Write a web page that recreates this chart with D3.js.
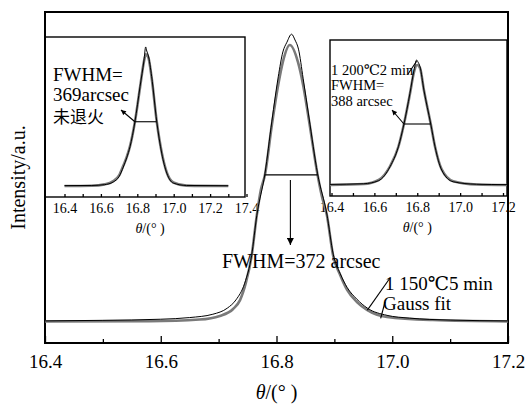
<!DOCTYPE html>
<html>
<head>
<meta charset="utf-8">
<script src="https://cdn.jsdelivr.net/npm/d3@7"></script>
<style>
  body { margin: 0; background: #fff; }
  svg { display: block; }
  svg text { font-family: "Liberation Serif", "Times New Roman", Tinos, "DejaVu Serif", "Noto Sans CJK SC", serif; fill: #000; }
  .frame { fill: none; stroke: #000; }
  .measured { fill: none; stroke: #000; stroke-width: 1; }
  .fit { fill: none; stroke: #7a7a7a; stroke-width: 2.6; }
  .axis path { display: none; }
  .axis line { stroke: #000; stroke-width: 1.3; }
  .note { stroke: #000; stroke-width: 1.1; fill: none; }
  svg text.cjk { font-family: "Noto Sans CJK SC", sans-serif; }
</style>
</head>
<body>
<svg id="chart" width="525" height="405"></svg>
<script>
// main scan: 1 150 ℃ 5 min (theta in degrees, normalised intensity)
const mainMeasured = [
  [16.400, 0.004], [16.500, 0.006], [16.600, 0.010], [16.650, 0.016], [16.690, 0.028],
  [16.715, 0.050], [16.730, 0.080], [16.745, 0.140], [16.757, 0.240], [16.766, 0.385],
  [16.780, 0.535], [16.792, 0.725], [16.803, 0.885], [16.811, 0.975], [16.818, 1.010],
  [16.826, 1.039], [16.832, 1.018], [16.838, 0.985], [16.846, 0.880], [16.856, 0.740],
  [16.871, 0.535], [16.887, 0.390], [16.898, 0.245], [16.910, 0.175], [16.922, 0.125],
  [16.939, 0.082], [16.957, 0.050], [16.991, 0.024], [17.030, 0.014], [17.100, 0.007],
  [17.200, 0.004]
];
const mainFit = [
  [16.400, 0.002], [16.581, 0.003], [16.667, 0.009], [16.702, 0.022], [16.725, 0.047],
  [16.737, 0.079], [16.747, 0.141], [16.757, 0.238], [16.766, 0.386], [16.773, 0.477],
  [16.780, 0.531], [16.792, 0.711], [16.803, 0.856], [16.811, 0.939], [16.823, 1.000],
  [16.837, 0.939], [16.846, 0.856], [16.856, 0.729], [16.871, 0.531], [16.878, 0.458],
  [16.887, 0.386], [16.898, 0.238], [16.910, 0.170], [16.922, 0.116], [16.939, 0.072],
  [16.957, 0.043], [16.991, 0.018], [17.070, 0.007], [17.200, 0.002]
];

// inset 1: as grown (未退火)
const asGrownMeasured = [
  [16.400, 0.003], [16.550, 0.004], [16.620, 0.010], [16.668, 0.030], [16.700, 0.070],
  [16.723, 0.140], [16.742, 0.210], [16.760, 0.291], [16.787, 0.476], [16.815, 0.736],
  [16.837, 0.933], [16.846, 1.030], [16.852, 1.000], [16.860, 0.970], [16.879, 0.810],
  [16.907, 0.476], [16.934, 0.244], [16.962, 0.096], [16.998, 0.022], [17.070, 0.004],
  [17.300, 0.002]
];
const asGrownFit = [
  [16.400, 0.000], [16.550, 0.002], [16.620, 0.012], [16.668, 0.036], [16.700, 0.078],
  [16.723, 0.150], [16.742, 0.215], [16.760, 0.295], [16.787, 0.476], [16.815, 0.730],
  [16.837, 0.925], [16.847, 0.975], [16.860, 0.955], [16.879, 0.800], [16.907, 0.476],
  [16.934, 0.250], [16.962, 0.100], [16.998, 0.026], [17.070, 0.003], [17.300, 0.000]
];

// inset 2: 1 200 ℃ 2 min
const rtaMeasured = [
  [16.393, 0.005], [16.550, 0.010], [16.620, 0.035], [16.673, 0.146], [16.712, 0.306],
  [16.738, 0.488], [16.766, 0.734], [16.785, 0.920], [16.797, 1.000], [16.803, 0.985],
  [16.813, 0.946], [16.831, 0.760], [16.863, 0.488], [16.883, 0.306], [16.914, 0.120],
  [16.968, 0.026], [17.077, 0.006], [17.219, 0.003]
];
const rtaFit = [
  [16.393, 0.000], [16.550, 0.008], [16.620, 0.040], [16.673, 0.150], [16.712, 0.306],
  [16.738, 0.488], [16.766, 0.730], [16.785, 0.905], [16.799, 0.960], [16.813, 0.935],
  [16.831, 0.760], [16.863, 0.488], [16.883, 0.306], [16.914, 0.125], [16.968, 0.030],
  [17.077, 0.004], [17.219, 0.000]
];

// FWHM markers: [theta left, theta right, intensity]
const mainFwhm = [16.780, 16.871, 0.531];
const asGrownFwhm = [16.787, 16.907, 0.476];
const rtaFwhm = [16.738, 16.863, 0.488];

const mainTicks = [16.4, 16.6, 16.8, 17.0, 17.2];
const mainMinorTicks = [16.5, 16.7, 16.9, 17.1];
const asGrownTicks = [16.4, 16.6, 16.8, 17.0, 17.2, 17.4];
const rtaTicks = [16.4, 16.6, 16.8, 17.0, 17.2];

const svg = d3.select('#chart');
const fmt = d3.format('.1f');

function tenths(lo, hi) {
  const out = [];
  for (let i = Math.round(lo * 10); i <= Math.round(hi * 10); i++) out.push(i / 10);
  return out;
}

const defs = svg.append('defs');
function marker(id, w, h) {
  defs.append('marker')
    .attr('id', id)
    .attr('viewBox', '0 0 10 10')
    .attr('refX', 10).attr('refY', 5)
    .attr('markerUnits', 'userSpaceOnUse')
    .attr('markerWidth', w).attr('markerHeight', h)
    .attr('orient', 'auto')
    .append('path').attr('d', 'M0,0L10,5L0,10Z').attr('fill', '#000');
}
marker('head', 12, 7);
marker('head-small', 7, 5);

// ── main panel scales ──────────────────────────────────────
const main = {left: 45, right: 508, top: 12, bottom: 343};
const x = d3.scaleLinear().domain([16.4, 17.2]).range([main.left, main.right]);
const y = d3.scaleLinear().domain([0, 1]).range([322, 45]);

// ── insets ─────────────────────────────────────────────────
function inset(box, xs, ys, ticks, measured, fit, fwhm, titleAt) {
  const g = svg.append('g');
  g.append('rect').attr('class', 'frame').attr('stroke-width', 1.4)
    .attr('x', box.left).attr('y', box.top)
    .attr('width', box.right - box.left).attr('height', box.bottom - box.top);

  g.append('g').attr('class', 'axis')
    .attr('transform', `translate(0,${box.bottom})`)
    .call(d3.axisBottom(xs).tickValues(tenths(ticks[0], ticks[ticks.length - 1])).tickSizeInner(-3).tickSizeOuter(0).tickFormat(''));

  g.append('g').attr('class', 'axis')
    .attr('transform', `translate(0,${box.bottom})`)
    .call(d3.axisBottom(xs).tickValues(ticks).tickSize(0).tickPadding(6).tickFormat(fmt))
    .selectAll('text').attr('font-size', 14);

  const line = d3.line().x(d => xs(d[0])).y(d => ys(d[1])).curve(d3.curveMonotoneX);
  g.append('path').datum(fit).attr('class', 'fit').attr('stroke-width', 2.4).attr('d', line);
  g.append('path').datum(measured).attr('class', 'measured').attr('d', line);

  g.append('line').attr('class', 'note')
    .attr('x1', xs(fwhm[0])).attr('x2', xs(fwhm[1]))
    .attr('y1', ys(fwhm[2])).attr('y2', ys(fwhm[2]));

  const title = g.append('text')
    .attr('x', xs(titleAt)).attr('y', box.bottom + 36)
    .attr('text-anchor', 'middle').attr('font-size', 14);
  title.append('tspan').attr('font-style', 'italic').text('θ');
  title.append('tspan').text('/(° )');
  return g;
}

const box1 = {left: 45, right: 245, top: 37, bottom: 197};
const x1 = d3.scaleLinear().domain([16.4, 17.4]).range([64.5, 246.5]);
const y1 = d3.scaleLinear().domain([0, 1]).range([186, 51]);
const g1 = inset(box1, x1, y1, asGrownTicks, asGrownMeasured, asGrownFit, asGrownFwhm, 16.87);

const lab1 = g1.append('text').attr('font-size', 19);
lab1.append('tspan').attr('x', 53).attr('y', 81).text('FWHM=');
lab1.append('tspan').attr('x', 53).attr('y', 101).text('369arcsec');
g1.append('text').attr('class', 'cjk').attr('x', 53).attr('y', 123).attr('font-size', 17).text('未退火');
g1.append('line').attr('class', 'note').attr('stroke-width', 1)
  .attr('x1', x1(asGrownFwhm[0])).attr('y1', y1(asGrownFwhm[2]))
  .attr('x2', 121).attr('y2', 110)
  .attr('marker-end', 'url(#head-small)');

const box2 = {left: 330, right: 507, top: 40, bottom: 196};
const x2 = d3.scaleLinear().domain([16.4, 17.2]).range([331.5, 503]);
const y2 = d3.scaleLinear().domain([0, 1]).range([185, 60]);
const g2 = inset(box2, x2, y2, rtaTicks, rtaMeasured, rtaFit, rtaFwhm, 16.8);

const lab2 = g2.append('text').attr('font-size', 14.5);
lab2.append('tspan').attr('x', 331).attr('y', 75).text('1 200℃2 min');
lab2.append('tspan').attr('x', 331).attr('y', 90).text('FWHM=');
lab2.append('tspan').attr('x', 331).attr('y', 106).text('388 arcsec');
g2.append('line').attr('class', 'note').attr('stroke-width', 1)
  .attr('x1', x2(rtaFwhm[0])).attr('y1', y2(rtaFwhm[2]))
  .attr('x2', 392).attr('y2', 110)
  .attr('marker-end', 'url(#head-small)');
g2.append('line').attr('class', 'note').attr('stroke-width', 1)
  .attr('x1', 408).attr('y1', 74).attr('x2', x2(16.797)).attr('y2', y2(0.99));

// ── main panel drawing ─────────────────────────────────────
svg.append('rect').attr('class', 'frame').attr('stroke-width', 2)
  .attr('x', main.left).attr('y', main.top)
  .attr('width', main.right - main.left).attr('height', main.bottom - main.top);

svg.append('g').attr('class', 'axis')
  .attr('transform', `translate(0,${main.bottom})`)
  .call(d3.axisBottom(x).tickValues(mainMinorTicks).tickSizeInner(-4).tickSizeOuter(0).tickFormat(''));

svg.append('g').attr('class', 'axis')
  .attr('transform', `translate(0,${main.bottom})`)
  .call(d3.axisBottom(x).tickValues(mainTicks).tickSizeInner(-7).tickSizeOuter(0).tickPadding(12).tickFormat(fmt))
  .selectAll('text').attr('font-size', 19);

const mainLine = d3.line().x(d => x(d[0])).y(d => y(d[1])).curve(d3.curveMonotoneX);
svg.append('path').datum(mainFit).attr('class', 'fit').attr('d', mainLine);
svg.append('path').datum(mainMeasured).attr('class', 'measured').attr('d', mainLine);

svg.append('line').attr('class', 'note')
  .attr('x1', x(mainFwhm[0])).attr('x2', x(mainFwhm[1]))
  .attr('y1', y(mainFwhm[2])).attr('y2', y(mainFwhm[2]));
svg.append('line').attr('class', 'note')
  .attr('x1', x(16.824)).attr('x2', x(16.824))
  .attr('y1', y(mainFwhm[2]) + 5).attr('y2', y(mainFwhm[2]) + 70)
  .attr('marker-end', 'url(#head)');

svg.append('text').attr('x', 222).attr('y', 268).attr('font-size', 20).text('FWHM=372 arcsec');
svg.append('text').attr('x', 385).attr('y', 290).attr('font-size', 19).text('1 150℃5 min');
svg.append('text').attr('x', 383).attr('y', 310).attr('font-size', 19).text('Gauss fit');
svg.append('line').attr('class', 'note').attr('stroke-width', 1)
  .attr('x1', 390).attr('y1', 278).attr('x2', x(16.957)).attr('y2', y(0.043));
svg.append('line').attr('class', 'note').attr('stroke-width', 1)
  .attr('x1', 385).attr('y1', 302).attr('x2', x(16.98)).attr('y2', y(0.013));

const xTitle = svg.append('text').attr('x', x(16.8)).attr('y', 399)
  .attr('text-anchor', 'middle').attr('font-size', 20);
xTitle.append('tspan').attr('font-style', 'italic').text('θ');
xTitle.append('tspan').text('/(° )');

svg.append('text')
  .attr('transform', `translate(25,${(main.top + main.bottom) / 2}) rotate(-90)`)
  .attr('text-anchor', 'middle').attr('font-size', 20)
  .text('Intensity/a.u.');
</script>
</body>
</html>
